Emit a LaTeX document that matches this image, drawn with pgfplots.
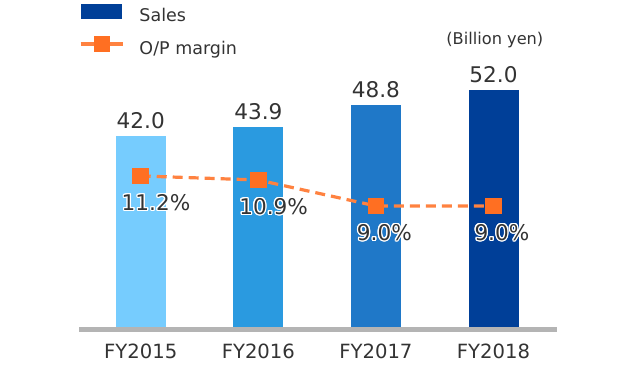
\documentclass[border=0pt]{standalone}
\usepackage{fontspec}
\setmainfont{DejaVu Sans}
\usepackage{pgfplots}
\pgfplotsset{compat=1.18}
\usepackage[copies]{contour}
\contourlength{1.2pt}
\definecolor{txt}{HTML}{333333}
\definecolor{barA}{HTML}{76CCFE}
\definecolor{barB}{HTML}{2A9AE0}
\definecolor{barC}{HTML}{1F78C8}
\definecolor{barD}{HTML}{003F98}
\definecolor{lineO}{HTML}{FF8240}
\definecolor{markO}{HTML}{FF6F22}
\definecolor{axgray}{HTML}{B4B4B4}
\begin{document}
\begin{tikzpicture}
\path[use as bounding box] (-79pt,-40.5pt) rectangle (561pt,329.5pt);
\begin{axis}[
  at={(0pt,0pt)}, anchor=south west,
  scale only axis, width=478pt, height=329.5pt,
  xmin=-0.525, xmax=3.54, ymin=-0.55, ymax=71.74,
  axis x line=bottom, axis y line=none,
  axis line style={draw=axgray, line width=5pt, -},
  xtick={0,1,2,3}, xticklabels={FY2015,FY2016,FY2017,FY2018},
  major tick length=0pt,
  xticklabel style={font=\fontsize{19.6}{20}\selectfont, text=txt, inner sep=0pt, yshift=-14.5pt, anchor=north},
  ytick=\empty,
  ybar, bar width=50pt, bar shift=0pt,
  /pgf/number format/assume math mode=true,
  nodes near coords={\pgfmathprintnumber[fixed,zerofill,precision=1]{\pgfplotspointmeta}},
  every node near coord/.append style={font=\fontsize{21.6}{22}\selectfont, text=txt, inner sep=0pt, anchor=south, yshift=7pt},
]
\addplot[fill=barA, draw=none] coordinates {(0,42.0)};
\addplot[fill=barB, draw=none] coordinates {(1,43.9)};
\addplot[fill=barC, draw=none] coordinates {(2,48.8)};
\addplot[fill=barD, draw=none] coordinates {(3,52.0)};
\node[font=\fontsize{16.2}{18}\selectfont, text=txt, inner sep=0pt] at (rel axis cs:0.870,0.8786) {(Billion yen)};
\end{axis}
\begin{axis}[
  at={(0pt,0pt)}, anchor=south west,
  scale only axis, width=478pt, height=329.5pt,
  xmin=-0.525, xmax=3.54, ymin=-0.059, ymax=24.1,
  hide axis,
  /pgf/number format/assume math mode=true,
  legend style={draw=none, fill=none, inner sep=0pt, outer sep=0pt,
    at={(0,0.9879)}, anchor=north west, row sep=10pt, column sep=15pt,
    font=\fontsize{17.5}{20}\selectfont,
    nodes={inner sep=0pt, text=txt, text height=13pt, text depth=4pt}},
  legend cell align=left,
]
\addlegendimage{legend image code/.code={\fill[barD] (0pt,-1pt) rectangle (40pt,13pt);}}
\addlegendentry{Sales}
\addplot[lineO, line width=3.2pt, dash pattern=on 10pt off 6pt,
  mark=square*, mark size=7.8pt, mark options={solid, fill=markO, draw=markO, line width=0pt},
  nodes near coords={\contour{white}{\pgfmathprintnumber[fixed,zerofill,precision=1]{\pgfplotspointmeta}\%}},
  every node near coord/.append style={anchor=west, xshift=-19pt, yshift=-27pt, font=\fontsize{21.6}{22}\selectfont, text=txt, inner sep=0pt},
  legend image code/.code={\draw[lineO, line width=3.5pt, solid] (0pt,6pt) -- (42pt,6pt); \fill[markO, solid] (14.5pt,-0.5pt) rectangle (27.5pt,12.5pt);}
] coordinates {(0,11.2) (1,10.9) (2,9.0) (3,9.0)};
\addlegendentry{O/P margin}
\end{axis}
\end{tikzpicture}
\end{document}
